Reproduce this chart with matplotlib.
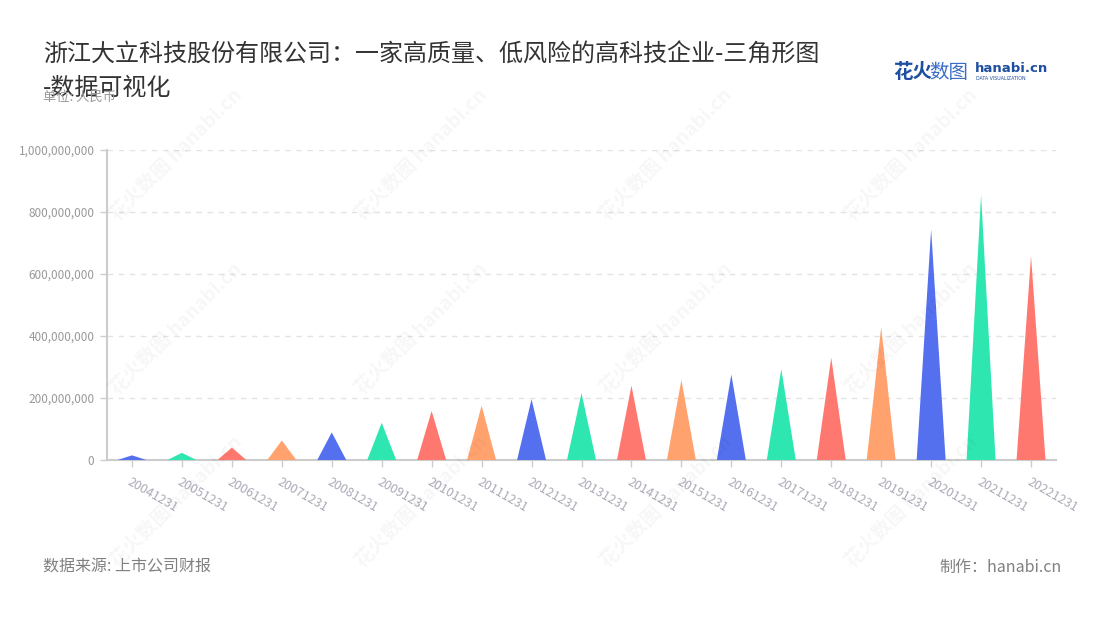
import matplotlib
matplotlib.use("Agg")
import matplotlib.pyplot as plt
from matplotlib.patches import Polygon
from matplotlib.ticker import FuncFormatter

plt.rcParams["font.family"] = ["Noto Sans CJK SC", "DejaVu Sans"]

# 数据
dates = ["20041231", "20051231", "20061231", "20071231", "20081231", "20091231",
         "20101231", "20111231", "20121231", "20131231", "20141231", "20151231",
         "20161231", "20171231", "20181231", "20191231", "20201231", "20211231",
         "20221231"]
values = [15e6, 23e6, 40e6, 63e6, 89e6, 120e6, 158e6, 175e6, 196e6, 216e6,
          240e6, 258e6, 276e6, 293e6, 330e6, 428e6, 744e6, 855e6, 658e6]
palette = ["#5470ee", "#2ee6b0", "#ff7870", "#ffa26e"]

title_lines = ["浙江大立科技股份有限公司：一家高质量、低风险的高科技企业-三角形图", "-数据可视化"]
unit_label = "单位: 人民币"
source_label = "数据来源: 上市公司财报"
maker_label = "制作：hanabi.cn"

fig = plt.figure(figsize=(11, 6.2), dpi=100)
ax = fig.add_axes([107 / 1100, 1 - 460 / 620, 949 / 1100, 310 / 620])

# 水印
for wx in [0.16, 0.383, 0.606, 0.829]:
    for wy in [0.75, 0.47, 0.19]:
        fig.text(wx, wy, "花火数图 hanabi.cn", rotation=45, fontsize=14,
                 color="#000000", alpha=0.035, ha="center", va="center",
                 fontweight="bold", zorder=0)

width = 0.58
for i, v in enumerate(values):
    tri = Polygon([(i - width / 2, 0), (i, v), (i + width / 2, 0)], closed=True,
                  facecolor=palette[i % len(palette)], edgecolor="none", zorder=3)
    ax.add_patch(tri)

ax.set_xlim(-0.5, len(dates) - 0.5)
ax.set_ylim(0, 1e9)
ax.set_yticks([0, 2e8, 4e8, 6e8, 8e8, 1e9])
ax.yaxis.set_major_formatter(FuncFormatter(lambda v, p: f"{int(v):,}"))
ax.set_xticks(range(len(dates)))
ax.set_xticklabels(dates, rotation=-30, ha="left", va="top", rotation_mode="anchor")

ax.grid(axis="y", color="#e3e3e3", linestyle=(0, (4, 4)), linewidth=1)
ax.set_axisbelow(True)
for s in ["top", "right"]:
    ax.spines[s].set_visible(False)
for s in ["left", "bottom"]:
    ax.spines[s].set_color("#cccccc")
    ax.spines[s].set_linewidth(1.5)
ax.tick_params(axis="y", colors="#cccccc", labelcolor="#999999", labelsize=8.5,
               length=5, width=1, pad=4)
ax.tick_params(axis="x", colors="#cccccc", labelcolor="#aaaab8", labelsize=9,
               length=5, width=1, pad=6)

fig.text(43 / 1100, 1 - 55 / 620, title_lines[0], fontsize=17.3, color="#333333",
         ha="left", va="center")
fig.text(43 / 1100, 1 - 88 / 620, title_lines[1], fontsize=17.3, color="#333333",
         ha="left", va="center")
fig.text(43 / 1100, 1 - 97 / 620, unit_label, fontsize=9.5, color="#999999",
         ha="left", va="center")

# logo
fig.text(893 / 1100, 1 - 72 / 620, "花火", fontsize=14, color="#1e4fa0",
         fontweight="bold", ha="left", va="center")
fig.text(929 / 1100, 1 - 72 / 620, "数图", fontsize=14, color="#3a6cc8",
         ha="left", va="center")
fig.text(975 / 1100, 1 - 69 / 620, "hanabi.cn", fontsize=9.5, color="#1e4fa0",
         fontweight="bold", ha="left", va="center", family="DejaVu Sans")
fig.text(976 / 1100, 1 - 79 / 620, "DATA VISUALIZATION", fontsize=3.4, color="#1e4fa0",
         ha="left", va="center", family="DejaVu Sans")

fig.text(43 / 1100, 1 - 567 / 620, source_label, fontsize=11.5, color="#808080",
         ha="left", va="center")
fig.text(1062 / 1100, 1 - 567 / 620, maker_label, fontsize=11.5, color="#808080",
         ha="right", va="center")

fig.savefig("out.png", dpi=100, facecolor="white")
